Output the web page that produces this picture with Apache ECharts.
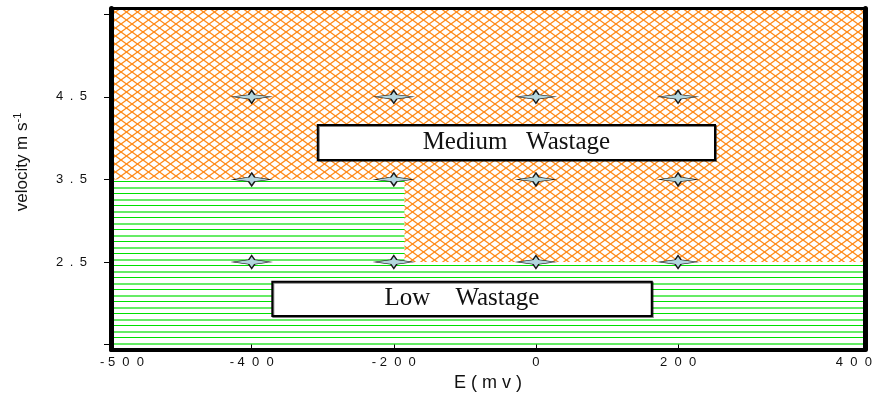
<!DOCTYPE html>
<html><head><meta charset="utf-8">
<script src="https://cdn.jsdelivr.net/npm/echarts@6/dist/echarts.min.js"></script>
<style>html,body{margin:0;padding:0;background:#fff}#c{width:875px;height:403px}</style>
</head><body><div id="c"></div>
<script>
// ---- data ----
const xRange = [-598, 463];          // E (mV) axis extent
const yRange = [1.44, 5.57];         // velocity axis extent
const xTickLabels = ['-500', '-400', '-200', '0', '200', '400'];
const xTickValues = [-400, -200, 0, 200];
const yTickValues = [1.5, 2.5, 3.5, 4.5, 5.5];
const yLabelValues = [2.5, 3.5, 4.5];
const pointE = [-400, -200, 0, 200, -400, -200, 0, 200, -400, -200, 0, 200];
const pointV = [4.5, 4.5, 4.5, 4.5, 3.5, 3.5, 3.5, 3.5, 2.5, 2.5, 2.5, 2.5];
const regionNames = ['Medium Wastage', 'Low Wastage'];
const mediumE = [-598, 463], mediumV = [1.44, 5.57];
const lowAE = [-598, -185], lowAV = [2.5, 3.5];
const lowBE = [-598, 463], lowBV = [1.44, 2.5];

// ---- patterns ----
function latticePattern() {
  const W = 22, H = 16, c = document.createElement('canvas');
  c.width = W; c.height = H;
  const g = c.getContext('2d');
  g.fillStyle = '#fff'; g.fillRect(0, 0, W, H);
  g.strokeStyle = '#ff8a18'; g.lineWidth = 1.3;
  for (let k = -4; k <= 4; k++) {
    g.beginPath(); g.moveTo(k * 11 - 11, -8); g.lineTo(k * 11 + 33, 24); g.stroke();
    g.beginPath(); g.moveTo(k * 11 - 11, 24); g.lineTo(k * 11 + 33, -8); g.stroke();
  }
  return { image: c, repeat: 'repeat' };
}
function linePattern() {
  const W = 4, H = 12, c = document.createElement('canvas');
  c.width = W; c.height = H;
  const g = c.getContext('2d');
  g.fillStyle = '#fff'; g.fillRect(0, 0, W, H);
  g.fillStyle = '#00e000'; g.fillRect(0, 1, W, 1);
  g.fillStyle = '#66ec66'; g.fillRect(0, 7, W, 2);
  return { image: c, repeat: 'repeat' };
}

function spacedX(s) {
  const neg = s.startsWith('-');
  const d = (neg ? s.slice(1) : s).split('').join('  ');
  return (neg ? '- ' : '') + d;
}
function spacedY(v) { return v.toFixed(1).split('').join('\u2002'); }

const xLabelVals = [xRange[0], ...xTickValues, xRange[1]];
function rect(e, v) { return [{ coord: [e[0], v[0]] }, { coord: [e[1], v[1]] }]; }

const chart = echarts.init(document.getElementById('c'), null, { renderer: 'canvas' });
const axisFont = { fontFamily: 'Liberation Sans, Arial, sans-serif', fontSize: 13, color: '#111' };
const boxStyle = { color: '#fff', borderColor: '#000', borderWidth: 2, shadowColor: 'rgba(0,0,0,0.5)', shadowOffsetX: 1, shadowOffsetY: 1 };
const boxLabel = { show: true, position: 'inside', fontFamily: 'Liberation Serif, Times New Roman, serif', fontSize: 25, color: '#111' };

chart.setOption({
  animation: false,
  grid: { left: 111, right: 9, top: 8.5, bottom: 53.5, show: false },
  xAxis: [{
    type: 'value', min: xRange[0], max: xRange[1], position: 'bottom', z: 10,
    axisLine: { show: true, onZero: false, lineStyle: { color: '#000', width: 4 } },
    axisTick: { show: true, inside: true, length: 5, customValues: xTickValues, lineStyle: { color: '#000', width: 1 } },
    axisLabel: {
      customValues: xLabelVals, margin: 6, ...axisFont,
      formatter: function (v) {
        const i = xLabelVals.indexOf(v);
        const s = spacedX(xTickLabels[i]);
        if (i === 0) return '{l|' + s + '}';
        if (i === xLabelVals.length - 1) return '{r|' + s + '}';
        return s;
      },
      rich: { l: { ...axisFont, padding: [0, 0, 0, 22] }, r: { ...axisFont, padding: [0, 22, 0, 0] } }
    },
    splitLine: { show: false },
    name: 'E ( m v )', nameLocation: 'middle', nameGap: 25,
    nameTextStyle: { fontFamily: 'Liberation Sans, Arial, sans-serif', fontSize: 18, color: '#111' }
  }, {
    type: 'value', min: xRange[0], max: xRange[1], position: 'top', z: 10,
    axisLine: { show: true, onZero: false, lineStyle: { color: '#000', width: 3 } },
    axisTick: { show: false }, axisLabel: { show: false }, splitLine: { show: false }
  }],
  yAxis: [{
    type: 'value', min: yRange[0], max: yRange[1], position: 'left', z: 10,
    axisLine: { show: true, onZero: false, lineStyle: { color: '#000', width: 5 } },
    axisTick: { show: true, inside: false, length: 7, customValues: yTickValues, lineStyle: { color: '#000', width: 1 } },
    axisLabel: { customValues: yLabelValues, margin: 24, ...axisFont, formatter: spacedY },
    splitLine: { show: false },
    name: '{a|velocity m s}{b|-1}', nameLocation: 'middle', nameGap: 78,
    nameTextStyle: {
      padding: [0, 0, 0, 34],
      rich: {
        a: { fontFamily: 'Liberation Sans, Arial, sans-serif', fontSize: 17, color: '#111', lineHeight: 21 },
        b: { fontFamily: 'Liberation Sans, Arial, sans-serif', fontSize: 11, color: '#111', lineHeight: 11, verticalAlign: 'top' }
      }
    }
  }, {
    type: 'value', min: yRange[0], max: yRange[1], position: 'right', z: 10,
    axisLine: { show: true, onZero: false, lineStyle: { color: '#000', width: 5 } },
    axisTick: { show: false }, axisLabel: { show: false }, splitLine: { show: false }
  }],
  series: [
    {
      type: 'scatter', data: [], z: 1, silent: true,
      markArea: { silent: true, emphasis: { disabled: true }, itemStyle: { color: latticePattern() },
        data: [rect(mediumE, mediumV)] }
    },
    {
      type: 'scatter', data: [], z: 2, silent: true,
      markArea: { silent: true, emphasis: { disabled: true }, itemStyle: { color: linePattern() },
        data: [rect(lowAE, lowAV), rect(lowBE, lowBV)] }
    },
    {
      type: 'scatter', data: [], z: 3, silent: true,
      markArea: {
        silent: true, emphasis: { disabled: true }, itemStyle: boxStyle, label: boxLabel,
        data: [
          [{ coord: [-307, 4.16], name: regionNames[0].replace(' ', '   ') }, { coord: [252, 3.736] }],
          [{ coord: [-371, 2.26], name: regionNames[1].replace(' ', '    ') }, { coord: [163, 1.845] }]
        ]
      }
    },
    {
      type: 'scatter', z: 5, silent: true,
      data: pointE.map((e, i) => [e, pointV[i]]),
      symbol: 'path://M0,-6 L3,-2 L19,0 L3,2 L0,6 L-3,2 L-19,0 L-3,-2 Z',
      symbolSize: [38, 13],
      itemStyle: { color: '#b3d6de', borderColor: '#1a1a1a', borderWidth: 1, opacity: 1 }
    }
  ]
});
</script>
</body></html>
